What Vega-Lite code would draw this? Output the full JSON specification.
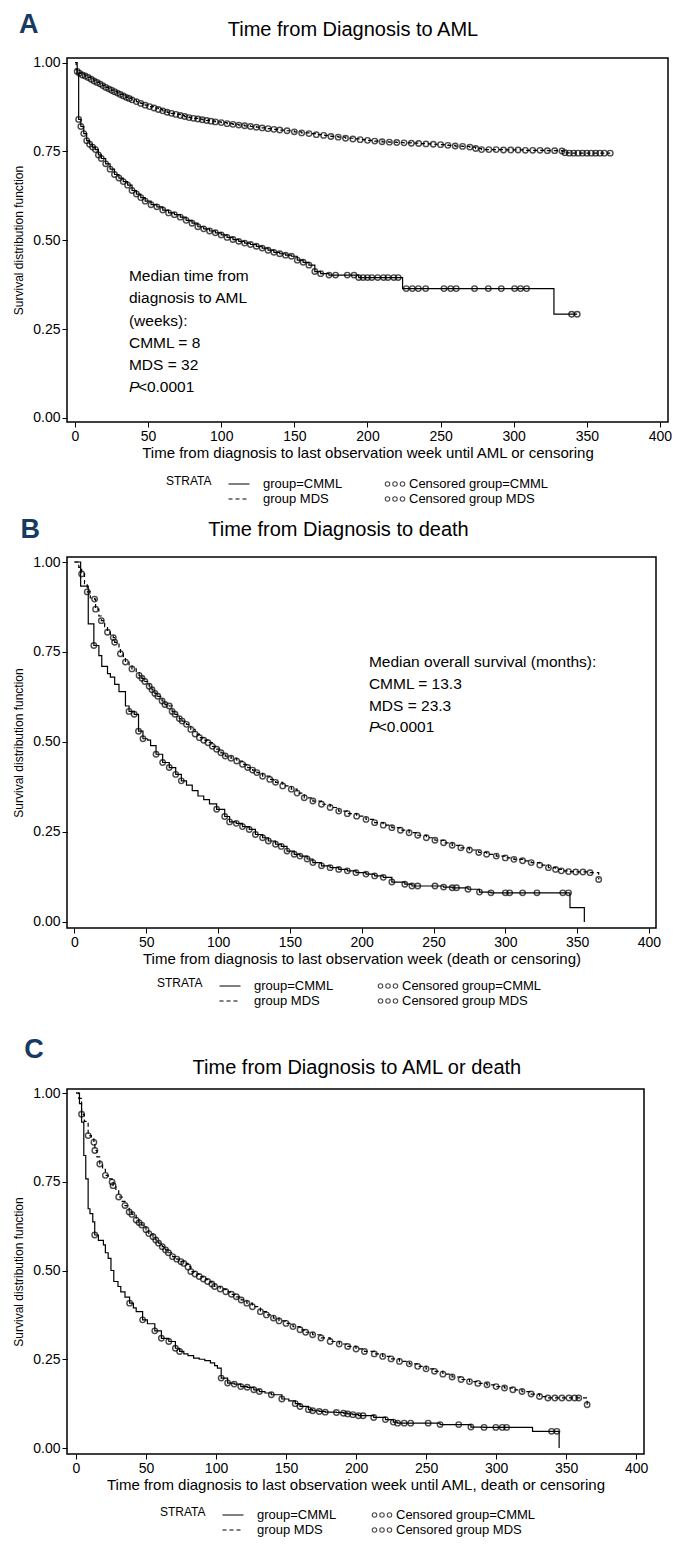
{
 "$schema": "https://vega.github.io/schema/vega-lite/v6.json",
 "background": "white",
 "padding": {"left": 12, "top": 10, "right": 5, "bottom": 5},
 "config": {
  "font": "Liberation Sans Narrow, Liberation Sans, sans-serif",
  "view": {"stroke": "black", "strokeWidth": 1.5},
  "axis": {"labelFont": "Liberation Sans Narrow, Liberation Sans, sans-serif", "labelFontSize": 14, "labelColor": "black", "titleFont": "Liberation Sans Narrow, Liberation Sans, sans-serif", "titleFontWeight": "normal", "titleColor": "black", "tickColor": "black", "tickSize": 5, "tickWidth": 1, "domain": false, "grid": false, "labelPadding": 2},
  "axisX": {"titleFontSize": 15, "titlePadding": 2, "labelFlush": false},
  "axisY": {"titleFontSize": 12, "titlePadding": 7, "labelFlush": false},
  "legend": {"labelFont": "Liberation Sans Narrow, Liberation Sans, sans-serif", "labelFontSize": 13, "titleFont": "Liberation Sans Narrow, Liberation Sans, sans-serif", "titleFontSize": 12, "titleFontWeight": "normal", "labelColor": "black", "titleColor": "black", "padding": 0, "rowPadding": 0},
  "text": {"color": "black"}
 },
 "datasets": {
  "A": [
   {"g":"CMML","t":0,"s":1,"c":0},{"g":"CMML","t":1.5,"s":0.97,"c":0},{"g":"CMML","t":2.5,"s":0.84,"c":1},{"g":"CMML","t":4,"s":0.82,"c":1},{"g":"CMML","t":6,"s":0.8,"c":1},{"g":"CMML","t":8,"s":0.78,"c":1},{"g":"CMML","t":10,"s":0.77,"c":1},{"g":"CMML","t":12,"s":0.762,"c":1},{"g":"CMML","t":14,"s":0.755,"c":1},{"g":"CMML","t":16,"s":0.74,"c":1},{"g":"CMML","t":18,"s":0.73,"c":1},{"g":"CMML","t":21,"s":0.715,"c":1},{"g":"CMML","t":24,"s":0.7,"c":1},{"g":"CMML","t":27,"s":0.685,"c":1},{"g":"CMML","t":30,"s":0.675,"c":1},{"g":"CMML","t":33,"s":0.665,"c":1},{"g":"CMML","t":36,"s":0.655,"c":1},{"g":"CMML","t":39,"s":0.64,"c":1},{"g":"CMML","t":42,"s":0.63,"c":1},{"g":"CMML","t":45,"s":0.62,"c":1},{"g":"CMML","t":48,"s":0.61,"c":1},{"g":"CMML","t":52,"s":0.6,"c":1},{"g":"CMML","t":56,"s":0.594,"c":1},{"g":"CMML","t":60,"s":0.585,"c":1},{"g":"CMML","t":64,"s":0.577,"c":1},{"g":"CMML","t":68,"s":0.572,"c":1},{"g":"CMML","t":72,"s":0.565,"c":1},{"g":"CMML","t":76,"s":0.556,"c":1},{"g":"CMML","t":80,"s":0.548,"c":1},{"g":"CMML","t":84,"s":0.538,"c":1},{"g":"CMML","t":88,"s":0.532,"c":1},{"g":"CMML","t":92,"s":0.526,"c":1},{"g":"CMML","t":96,"s":0.521,"c":1},{"g":"CMML","t":100,"s":0.515,"c":1},{"g":"CMML","t":104,"s":0.508,"c":1},{"g":"CMML","t":108,"s":0.502,"c":1},{"g":"CMML","t":112,"s":0.497,"c":1},{"g":"CMML","t":116,"s":0.492,"c":1},{"g":"CMML","t":120,"s":0.488,"c":1},{"g":"CMML","t":124,"s":0.483,"c":1},{"g":"CMML","t":128,"s":0.478,"c":1},{"g":"CMML","t":132,"s":0.472,"c":1},{"g":"CMML","t":136,"s":0.466,"c":1},{"g":"CMML","t":140,"s":0.462,"c":1},{"g":"CMML","t":144,"s":0.458,"c":1},{"g":"CMML","t":148,"s":0.455,"c":1},{"g":"CMML","t":152,"s":0.444,"c":1},{"g":"CMML","t":156,"s":0.438,"c":1},{"g":"CMML","t":160,"s":0.43,"c":1},{"g":"CMML","t":164,"s":0.412,"c":1},{"g":"CMML","t":168,"s":0.406,"c":1},{"g":"CMML","t":173.7,"s":0.402,"c":1},{"g":"CMML","t":178.2,"s":0.402,"c":1},{"g":"CMML","t":186.2,"s":0.402,"c":1},{"g":"CMML","t":190.8,"s":0.402,"c":1},{"g":"CMML","t":194,"s":0.395,"c":1},{"g":"CMML","t":197,"s":0.395,"c":1},{"g":"CMML","t":200,"s":0.395,"c":1},{"g":"CMML","t":203,"s":0.395,"c":1},{"g":"CMML","t":207,"s":0.395,"c":1},{"g":"CMML","t":211,"s":0.395,"c":1},{"g":"CMML","t":214,"s":0.395,"c":1},{"g":"CMML","t":218,"s":0.395,"c":1},{"g":"CMML","t":221,"s":0.395,"c":1},{"g":"CMML","t":224,"s":0.364,"c":0},{"g":"CMML","t":226.5,"s":0.364,"c":1},{"g":"CMML","t":230.7,"s":0.364,"c":1},{"g":"CMML","t":234.8,"s":0.364,"c":1},{"g":"CMML","t":239.8,"s":0.364,"c":1},{"g":"CMML","t":252.3,"s":0.364,"c":1},{"g":"CMML","t":256.9,"s":0.364,"c":1},{"g":"CMML","t":260.7,"s":0.364,"c":1},{"g":"CMML","t":273.2,"s":0.364,"c":1},{"g":"CMML","t":282.6,"s":0.364,"c":1},{"g":"CMML","t":291.5,"s":0.364,"c":1},{"g":"CMML","t":300.6,"s":0.364,"c":1},{"g":"CMML","t":304.7,"s":0.364,"c":1},{"g":"CMML","t":308.8,"s":0.364,"c":1},{"g":"CMML","t":327.5,"s":0.292,"c":0},{"g":"CMML","t":339.6,"s":0.292,"c":1},{"g":"CMML","t":343.4,"s":0.292,"c":1},
   {"g":"MDS","t":0,"s":1,"c":0},{"g":"MDS","t":0.8,"s":0.98,"c":0},{"g":"MDS","t":1.5,"s":0.975,"c":1},{"g":"MDS","t":3,"s":0.97,"c":1},{"g":"MDS","t":5,"s":0.965,"c":1},{"g":"MDS","t":7,"s":0.962,"c":1},{"g":"MDS","t":9,"s":0.958,"c":1},{"g":"MDS","t":11,"s":0.953,"c":1},{"g":"MDS","t":13,"s":0.948,"c":1},{"g":"MDS","t":15,"s":0.944,"c":1},{"g":"MDS","t":17,"s":0.94,"c":1},{"g":"MDS","t":19,"s":0.935,"c":1},{"g":"MDS","t":21,"s":0.93,"c":1},{"g":"MDS","t":23,"s":0.926,"c":1},{"g":"MDS","t":25,"s":0.922,"c":1},{"g":"MDS","t":27,"s":0.918,"c":1},{"g":"MDS","t":29,"s":0.914,"c":1},{"g":"MDS","t":31,"s":0.91,"c":1},{"g":"MDS","t":33,"s":0.906,"c":1},{"g":"MDS","t":35,"s":0.902,"c":1},{"g":"MDS","t":37,"s":0.899,"c":1},{"g":"MDS","t":39,"s":0.895,"c":1},{"g":"MDS","t":42,"s":0.89,"c":1},{"g":"MDS","t":45,"s":0.885,"c":1},{"g":"MDS","t":48,"s":0.88,"c":1},{"g":"MDS","t":51,"s":0.876,"c":1},{"g":"MDS","t":54,"s":0.872,"c":1},{"g":"MDS","t":57,"s":0.868,"c":1},{"g":"MDS","t":60,"s":0.864,"c":1},{"g":"MDS","t":63,"s":0.86,"c":1},{"g":"MDS","t":66,"s":0.857,"c":1},{"g":"MDS","t":69,"s":0.854,"c":1},{"g":"MDS","t":72,"s":0.851,"c":1},{"g":"MDS","t":75,"s":0.848,"c":1},{"g":"MDS","t":78,"s":0.845,"c":1},{"g":"MDS","t":81,"s":0.843,"c":1},{"g":"MDS","t":84,"s":0.841,"c":1},{"g":"MDS","t":87,"s":0.839,"c":1},{"g":"MDS","t":90,"s":0.837,"c":1},{"g":"MDS","t":93,"s":0.835,"c":1},{"g":"MDS","t":96,"s":0.833,"c":1},{"g":"MDS","t":100,"s":0.831,"c":1},{"g":"MDS","t":104,"s":0.828,"c":1},{"g":"MDS","t":108,"s":0.826,"c":1},{"g":"MDS","t":112,"s":0.824,"c":1},{"g":"MDS","t":116,"s":0.822,"c":1},{"g":"MDS","t":120,"s":0.82,"c":1},{"g":"MDS","t":124,"s":0.818,"c":1},{"g":"MDS","t":128,"s":0.816,"c":1},{"g":"MDS","t":132,"s":0.814,"c":1},{"g":"MDS","t":136,"s":0.812,"c":1},{"g":"MDS","t":140,"s":0.81,"c":1},{"g":"MDS","t":145,"s":0.808,"c":1},{"g":"MDS","t":150,"s":0.805,"c":1},{"g":"MDS","t":155,"s":0.802,"c":1},{"g":"MDS","t":160,"s":0.8,"c":1},{"g":"MDS","t":165,"s":0.797,"c":1},{"g":"MDS","t":170,"s":0.795,"c":1},{"g":"MDS","t":175,"s":0.792,"c":1},{"g":"MDS","t":180,"s":0.79,"c":1},{"g":"MDS","t":185,"s":0.787,"c":1},{"g":"MDS","t":190,"s":0.785,"c":1},{"g":"MDS","t":195,"s":0.783,"c":1},{"g":"MDS","t":200,"s":0.781,"c":1},{"g":"MDS","t":205,"s":0.779,"c":1},{"g":"MDS","t":210,"s":0.777,"c":1},{"g":"MDS","t":215,"s":0.776,"c":1},{"g":"MDS","t":220,"s":0.775,"c":1},{"g":"MDS","t":225,"s":0.774,"c":1},{"g":"MDS","t":230,"s":0.773,"c":1},{"g":"MDS","t":235,"s":0.772,"c":1},{"g":"MDS","t":240,"s":0.771,"c":1},{"g":"MDS","t":245,"s":0.77,"c":1},{"g":"MDS","t":250,"s":0.769,"c":1},{"g":"MDS","t":255,"s":0.767,"c":1},{"g":"MDS","t":260,"s":0.765,"c":1},{"g":"MDS","t":265,"s":0.764,"c":1},{"g":"MDS","t":270,"s":0.762,"c":1},{"g":"MDS","t":274,"s":0.758,"c":1},{"g":"MDS","t":278,"s":0.755,"c":1},{"g":"MDS","t":283,"s":0.755,"c":1},{"g":"MDS","t":288,"s":0.755,"c":1},{"g":"MDS","t":293,"s":0.754,"c":1},{"g":"MDS","t":298,"s":0.754,"c":1},{"g":"MDS","t":303,"s":0.754,"c":1},{"g":"MDS","t":308,"s":0.753,"c":1},{"g":"MDS","t":313,"s":0.753,"c":1},{"g":"MDS","t":318,"s":0.753,"c":1},{"g":"MDS","t":323,"s":0.752,"c":1},{"g":"MDS","t":328,"s":0.752,"c":1},{"g":"MDS","t":333,"s":0.751,"c":1},{"g":"MDS","t":335,"s":0.746,"c":1},{"g":"MDS","t":338,"s":0.745,"c":1},{"g":"MDS","t":341,"s":0.745,"c":1},{"g":"MDS","t":344,"s":0.745,"c":1},{"g":"MDS","t":347,"s":0.745,"c":1},{"g":"MDS","t":350,"s":0.745,"c":1},{"g":"MDS","t":353,"s":0.745,"c":1},{"g":"MDS","t":356,"s":0.745,"c":1},{"g":"MDS","t":359,"s":0.745,"c":1},{"g":"MDS","t":362,"s":0.745,"c":1},{"g":"MDS","t":366,"s":0.745,"c":1}
  ],
  "B": [
   {"g":"CMML","t":0,"s":1,"c":0},{"g":"CMML","t":4.3,"s":0.933,"c":0},{"g":"CMML","t":9.6,"s":0.828,"c":0},{"g":"CMML","t":13.5,"s":0.768,"c":1},{"g":"CMML","t":17,"s":0.74,"c":0},{"g":"CMML","t":19,"s":0.71,"c":0},{"g":"CMML","t":23,"s":0.69,"c":0},{"g":"CMML","t":25,"s":0.68,"c":0},{"g":"CMML","t":28,"s":0.66,"c":0},{"g":"CMML","t":31,"s":0.64,"c":0},{"g":"CMML","t":35.5,"s":0.6,"c":0},{"g":"CMML","t":38,"s":0.585,"c":1},{"g":"CMML","t":41.6,"s":0.577,"c":1},{"g":"CMML","t":44.6,"s":0.53,"c":1},{"g":"CMML","t":47.7,"s":0.509,"c":1},{"g":"CMML","t":51,"s":0.505,"c":0},{"g":"CMML","t":53,"s":0.49,"c":0},{"g":"CMML","t":56.8,"s":0.466,"c":1},{"g":"CMML","t":61.4,"s":0.443,"c":1},{"g":"CMML","t":66,"s":0.429,"c":1},{"g":"CMML","t":70.5,"s":0.41,"c":1},{"g":"CMML","t":74.4,"s":0.392,"c":1},{"g":"CMML","t":78,"s":0.38,"c":0},{"g":"CMML","t":82,"s":0.365,"c":0},{"g":"CMML","t":86,"s":0.35,"c":0},{"g":"CMML","t":90,"s":0.34,"c":0},{"g":"CMML","t":94,"s":0.328,"c":0},{"g":"CMML","t":99,"s":0.313,"c":1},{"g":"CMML","t":104.6,"s":0.293,"c":1},{"g":"CMML","t":108,"s":0.278,"c":1},{"g":"CMML","t":112.7,"s":0.274,"c":1},{"g":"CMML","t":117,"s":0.265,"c":1},{"g":"CMML","t":121.7,"s":0.257,"c":1},{"g":"CMML","t":126,"s":0.243,"c":1},{"g":"CMML","t":131,"s":0.234,"c":1},{"g":"CMML","t":135,"s":0.225,"c":1},{"g":"CMML","t":140,"s":0.216,"c":1},{"g":"CMML","t":144,"s":0.21,"c":1},{"g":"CMML","t":148,"s":0.197,"c":1},{"g":"CMML","t":153,"s":0.188,"c":1},{"g":"CMML","t":157,"s":0.183,"c":1},{"g":"CMML","t":162,"s":0.175,"c":1},{"g":"CMML","t":166,"s":0.165,"c":1},{"g":"CMML","t":172,"s":0.156,"c":1},{"g":"CMML","t":178,"s":0.151,"c":1},{"g":"CMML","t":184,"s":0.146,"c":1},{"g":"CMML","t":190,"s":0.142,"c":1},{"g":"CMML","t":196,"s":0.137,"c":1},{"g":"CMML","t":203,"s":0.133,"c":1},{"g":"CMML","t":209,"s":0.128,"c":1},{"g":"CMML","t":215,"s":0.124,"c":1},{"g":"CMML","t":221,"s":0.111,"c":1},{"g":"CMML","t":230,"s":0.105,"c":1},{"g":"CMML","t":235,"s":0.1,"c":1},{"g":"CMML","t":239,"s":0.1,"c":1},{"g":"CMML","t":251,"s":0.1,"c":1},{"g":"CMML","t":257,"s":0.097,"c":1},{"g":"CMML","t":263,"s":0.095,"c":1},{"g":"CMML","t":266,"s":0.095,"c":1},{"g":"CMML","t":274,"s":0.091,"c":1},{"g":"CMML","t":282,"s":0.083,"c":1},{"g":"CMML","t":290,"s":0.081,"c":1},{"g":"CMML","t":300,"s":0.081,"c":1},{"g":"CMML","t":303,"s":0.081,"c":1},{"g":"CMML","t":312,"s":0.081,"c":1},{"g":"CMML","t":322,"s":0.081,"c":1},{"g":"CMML","t":340,"s":0.081,"c":1},{"g":"CMML","t":344,"s":0.081,"c":1},{"g":"CMML","t":345,"s":0.04,"c":0},{"g":"CMML","t":355,"s":0,"c":0},
   {"g":"MDS","t":0,"s":1,"c":0},{"g":"MDS","t":3,"s":0.985,"c":0},{"g":"MDS","t":5,"s":0.967,"c":1},{"g":"MDS","t":7,"s":0.94,"c":0},{"g":"MDS","t":8.9,"s":0.917,"c":1},{"g":"MDS","t":11,"s":0.9,"c":0},{"g":"MDS","t":14,"s":0.897,"c":1},{"g":"MDS","t":14.7,"s":0.869,"c":1},{"g":"MDS","t":17,"s":0.85,"c":0},{"g":"MDS","t":18.7,"s":0.837,"c":1},{"g":"MDS","t":21,"s":0.82,"c":0},{"g":"MDS","t":23,"s":0.805,"c":1},{"g":"MDS","t":25,"s":0.795,"c":0},{"g":"MDS","t":27,"s":0.79,"c":1},{"g":"MDS","t":28,"s":0.777,"c":1},{"g":"MDS","t":31,"s":0.76,"c":0},{"g":"MDS","t":32,"s":0.745,"c":1},{"g":"MDS","t":34,"s":0.735,"c":0},{"g":"MDS","t":35.5,"s":0.722,"c":1},{"g":"MDS","t":38,"s":0.712,"c":0},{"g":"MDS","t":40,"s":0.703,"c":1},{"g":"MDS","t":43,"s":0.693,"c":0},{"g":"MDS","t":45,"s":0.685,"c":1},{"g":"MDS","t":47,"s":0.677,"c":1},{"g":"MDS","t":49,"s":0.668,"c":1},{"g":"MDS","t":52,"s":0.655,"c":1},{"g":"MDS","t":54,"s":0.645,"c":1},{"g":"MDS","t":56,"s":0.635,"c":1},{"g":"MDS","t":58,"s":0.627,"c":1},{"g":"MDS","t":61,"s":0.614,"c":1},{"g":"MDS","t":63,"s":0.604,"c":1},{"g":"MDS","t":66,"s":0.6,"c":1},{"g":"MDS","t":68,"s":0.585,"c":1},{"g":"MDS","t":70,"s":0.577,"c":1},{"g":"MDS","t":73,"s":0.565,"c":1},{"g":"MDS","t":75,"s":0.558,"c":1},{"g":"MDS","t":78,"s":0.549,"c":1},{"g":"MDS","t":81,"s":0.535,"c":1},{"g":"MDS","t":84,"s":0.522,"c":1},{"g":"MDS","t":87,"s":0.512,"c":1},{"g":"MDS","t":90,"s":0.505,"c":1},{"g":"MDS","t":93,"s":0.498,"c":1},{"g":"MDS","t":96,"s":0.488,"c":1},{"g":"MDS","t":99,"s":0.48,"c":1},{"g":"MDS","t":102,"s":0.47,"c":1},{"g":"MDS","t":105,"s":0.461,"c":1},{"g":"MDS","t":109,"s":0.455,"c":1},{"g":"MDS","t":113,"s":0.447,"c":1},{"g":"MDS","t":117,"s":0.438,"c":1},{"g":"MDS","t":120.6,"s":0.429,"c":1},{"g":"MDS","t":124,"s":0.422,"c":1},{"g":"MDS","t":127,"s":0.415,"c":1},{"g":"MDS","t":131,"s":0.405,"c":1},{"g":"MDS","t":136,"s":0.396,"c":1},{"g":"MDS","t":140,"s":0.388,"c":1},{"g":"MDS","t":145,"s":0.378,"c":1},{"g":"MDS","t":151,"s":0.369,"c":1},{"g":"MDS","t":155,"s":0.358,"c":1},{"g":"MDS","t":160,"s":0.345,"c":1},{"g":"MDS","t":166,"s":0.336,"c":1},{"g":"MDS","t":172,"s":0.327,"c":1},{"g":"MDS","t":178,"s":0.318,"c":1},{"g":"MDS","t":184,"s":0.308,"c":1},{"g":"MDS","t":190,"s":0.301,"c":1},{"g":"MDS","t":196.5,"s":0.294,"c":1},{"g":"MDS","t":203,"s":0.285,"c":1},{"g":"MDS","t":209,"s":0.276,"c":1},{"g":"MDS","t":215,"s":0.269,"c":1},{"g":"MDS","t":221,"s":0.262,"c":1},{"g":"MDS","t":227,"s":0.255,"c":1},{"g":"MDS","t":233,"s":0.248,"c":1},{"g":"MDS","t":239,"s":0.241,"c":1},{"g":"MDS","t":245,"s":0.234,"c":1},{"g":"MDS","t":251,"s":0.227,"c":1},{"g":"MDS","t":257,"s":0.22,"c":1},{"g":"MDS","t":263,"s":0.213,"c":1},{"g":"MDS","t":269,"s":0.206,"c":1},{"g":"MDS","t":275,"s":0.2,"c":1},{"g":"MDS","t":281.5,"s":0.193,"c":1},{"g":"MDS","t":287,"s":0.188,"c":1},{"g":"MDS","t":293.7,"s":0.183,"c":1},{"g":"MDS","t":300,"s":0.178,"c":1},{"g":"MDS","t":306,"s":0.174,"c":1},{"g":"MDS","t":312,"s":0.17,"c":1},{"g":"MDS","t":318,"s":0.165,"c":1},{"g":"MDS","t":324,"s":0.158,"c":1},{"g":"MDS","t":330,"s":0.151,"c":1},{"g":"MDS","t":335,"s":0.146,"c":1},{"g":"MDS","t":339,"s":0.142,"c":1},{"g":"MDS","t":344,"s":0.14,"c":1},{"g":"MDS","t":349,"s":0.139,"c":1},{"g":"MDS","t":354,"s":0.139,"c":1},{"g":"MDS","t":359,"s":0.137,"c":1},{"g":"MDS","t":365,"s":0.118,"c":1}
  ],
  "C": [
   {"g":"CMML","t":0,"s":1,"c":0},{"g":"CMML","t":2.5,"s":0.97,"c":0},{"g":"CMML","t":4,"s":0.918,"c":0},{"g":"CMML","t":5.6,"s":0.824,"c":0},{"g":"CMML","t":7,"s":0.758,"c":0},{"g":"CMML","t":8.7,"s":0.674,"c":0},{"g":"CMML","t":10,"s":0.66,"c":0},{"g":"CMML","t":12,"s":0.637,"c":0},{"g":"CMML","t":13.4,"s":0.6,"c":1},{"g":"CMML","t":16,"s":0.585,"c":0},{"g":"CMML","t":19.6,"s":0.572,"c":0},{"g":"CMML","t":21,"s":0.55,"c":0},{"g":"CMML","t":23,"s":0.534,"c":0},{"g":"CMML","t":25,"s":0.5,"c":0},{"g":"CMML","t":27,"s":0.469,"c":0},{"g":"CMML","t":30,"s":0.455,"c":0},{"g":"CMML","t":32,"s":0.44,"c":0},{"g":"CMML","t":35,"s":0.425,"c":0},{"g":"CMML","t":38.3,"s":0.408,"c":1},{"g":"CMML","t":41,"s":0.395,"c":0},{"g":"CMML","t":43,"s":0.384,"c":0},{"g":"CMML","t":47.6,"s":0.361,"c":1},{"g":"CMML","t":51,"s":0.35,"c":0},{"g":"CMML","t":56.3,"s":0.33,"c":1},{"g":"CMML","t":61,"s":0.309,"c":1},{"g":"CMML","t":66.3,"s":0.3,"c":1},{"g":"CMML","t":71,"s":0.281,"c":1},{"g":"CMML","t":74,"s":0.272,"c":1},{"g":"CMML","t":77,"s":0.265,"c":0},{"g":"CMML","t":80,"s":0.26,"c":0},{"g":"CMML","t":84,"s":0.253,"c":0},{"g":"CMML","t":88,"s":0.25,"c":0},{"g":"CMML","t":92,"s":0.246,"c":0},{"g":"CMML","t":96,"s":0.24,"c":0},{"g":"CMML","t":99,"s":0.232,"c":0},{"g":"CMML","t":101,"s":0.225,"c":0},{"g":"CMML","t":103.7,"s":0.197,"c":1},{"g":"CMML","t":108.3,"s":0.183,"c":1},{"g":"CMML","t":113,"s":0.18,"c":1},{"g":"CMML","t":117.7,"s":0.173,"c":1},{"g":"CMML","t":122.3,"s":0.171,"c":1},{"g":"CMML","t":127,"s":0.164,"c":1},{"g":"CMML","t":131,"s":0.159,"c":1},{"g":"CMML","t":135,"s":0.155,"c":0},{"g":"CMML","t":139.5,"s":0.15,"c":1},{"g":"CMML","t":147,"s":0.138,"c":1},{"g":"CMML","t":152,"s":0.133,"c":0},{"g":"CMML","t":156.6,"s":0.125,"c":1},{"g":"CMML","t":160,"s":0.117,"c":1},{"g":"CMML","t":166,"s":0.108,"c":1},{"g":"CMML","t":169,"s":0.105,"c":1},{"g":"CMML","t":173.7,"s":0.103,"c":1},{"g":"CMML","t":178,"s":0.101,"c":1},{"g":"CMML","t":186,"s":0.1,"c":1},{"g":"CMML","t":191,"s":0.098,"c":1},{"g":"CMML","t":194,"s":0.096,"c":1},{"g":"CMML","t":197.7,"s":0.094,"c":1},{"g":"CMML","t":201.7,"s":0.091,"c":1},{"g":"CMML","t":205,"s":0.091,"c":1},{"g":"CMML","t":212.6,"s":0.086,"c":1},{"g":"CMML","t":221,"s":0.08,"c":1},{"g":"CMML","t":226.6,"s":0.073,"c":1},{"g":"CMML","t":229.7,"s":0.07,"c":1},{"g":"CMML","t":234.4,"s":0.07,"c":1},{"g":"CMML","t":239,"s":0.07,"c":1},{"g":"CMML","t":251.5,"s":0.07,"c":1},{"g":"CMML","t":260,"s":0.066,"c":1},{"g":"CMML","t":273.3,"s":0.066,"c":1},{"g":"CMML","t":282,"s":0.059,"c":1},{"g":"CMML","t":291.4,"s":0.058,"c":1},{"g":"CMML","t":299.8,"s":0.058,"c":1},{"g":"CMML","t":304.4,"s":0.058,"c":1},{"g":"CMML","t":307.5,"s":0.058,"c":1},{"g":"CMML","t":326,"s":0.047,"c":0},{"g":"CMML","t":339.6,"s":0.047,"c":1},{"g":"CMML","t":343.4,"s":0.047,"c":1},{"g":"CMML","t":345,"s":0,"c":0},
   {"g":"MDS","t":0,"s":1,"c":0},{"g":"MDS","t":2,"s":0.985,"c":0},{"g":"MDS","t":4,"s":0.94,"c":1},{"g":"MDS","t":6,"s":0.92,"c":0},{"g":"MDS","t":8.7,"s":0.88,"c":1},{"g":"MDS","t":11,"s":0.87,"c":0},{"g":"MDS","t":12.8,"s":0.861,"c":1},{"g":"MDS","t":13.5,"s":0.838,"c":1},{"g":"MDS","t":15,"s":0.82,"c":0},{"g":"MDS","t":17,"s":0.8,"c":1},{"g":"MDS","t":19,"s":0.785,"c":0},{"g":"MDS","t":21,"s":0.768,"c":1},{"g":"MDS","t":23,"s":0.758,"c":0},{"g":"MDS","t":25.8,"s":0.749,"c":1},{"g":"MDS","t":26.5,"s":0.739,"c":1},{"g":"MDS","t":28.5,"s":0.725,"c":0},{"g":"MDS","t":30.5,"s":0.707,"c":1},{"g":"MDS","t":33,"s":0.695,"c":0},{"g":"MDS","t":35,"s":0.683,"c":1},{"g":"MDS","t":38,"s":0.665,"c":1},{"g":"MDS","t":40,"s":0.658,"c":1},{"g":"MDS","t":43,"s":0.642,"c":1},{"g":"MDS","t":45,"s":0.635,"c":1},{"g":"MDS","t":47,"s":0.628,"c":1},{"g":"MDS","t":50,"s":0.615,"c":1},{"g":"MDS","t":52,"s":0.604,"c":1},{"g":"MDS","t":55,"s":0.595,"c":1},{"g":"MDS","t":57,"s":0.586,"c":1},{"g":"MDS","t":59,"s":0.577,"c":1},{"g":"MDS","t":61.6,"s":0.567,"c":1},{"g":"MDS","t":64,"s":0.558,"c":1},{"g":"MDS","t":66,"s":0.55,"c":1},{"g":"MDS","t":69,"s":0.539,"c":1},{"g":"MDS","t":72,"s":0.532,"c":1},{"g":"MDS","t":75,"s":0.525,"c":1},{"g":"MDS","t":77,"s":0.52,"c":1},{"g":"MDS","t":80,"s":0.51,"c":1},{"g":"MDS","t":82,"s":0.497,"c":1},{"g":"MDS","t":85,"s":0.49,"c":1},{"g":"MDS","t":88,"s":0.483,"c":1},{"g":"MDS","t":91,"s":0.476,"c":1},{"g":"MDS","t":94,"s":0.469,"c":1},{"g":"MDS","t":97,"s":0.462,"c":1},{"g":"MDS","t":99,"s":0.455,"c":1},{"g":"MDS","t":103,"s":0.448,"c":1},{"g":"MDS","t":107,"s":0.44,"c":1},{"g":"MDS","t":111,"s":0.433,"c":1},{"g":"MDS","t":114.5,"s":0.426,"c":1},{"g":"MDS","t":118,"s":0.417,"c":1},{"g":"MDS","t":122,"s":0.408,"c":1},{"g":"MDS","t":126,"s":0.398,"c":1},{"g":"MDS","t":131.7,"s":0.384,"c":1},{"g":"MDS","t":136,"s":0.375,"c":1},{"g":"MDS","t":141,"s":0.366,"c":1},{"g":"MDS","t":145,"s":0.358,"c":1},{"g":"MDS","t":150,"s":0.351,"c":1},{"g":"MDS","t":155,"s":0.342,"c":1},{"g":"MDS","t":160,"s":0.333,"c":1},{"g":"MDS","t":164,"s":0.326,"c":1},{"g":"MDS","t":169,"s":0.319,"c":1},{"g":"MDS","t":175,"s":0.31,"c":1},{"g":"MDS","t":181.5,"s":0.3,"c":1},{"g":"MDS","t":188,"s":0.293,"c":1},{"g":"MDS","t":194,"s":0.286,"c":1},{"g":"MDS","t":200,"s":0.279,"c":1},{"g":"MDS","t":206,"s":0.272,"c":1},{"g":"MDS","t":213,"s":0.265,"c":1},{"g":"MDS","t":219,"s":0.258,"c":1},{"g":"MDS","t":225,"s":0.251,"c":1},{"g":"MDS","t":231,"s":0.244,"c":1},{"g":"MDS","t":238,"s":0.237,"c":1},{"g":"MDS","t":244,"s":0.23,"c":1},{"g":"MDS","t":250,"s":0.223,"c":1},{"g":"MDS","t":256,"s":0.216,"c":1},{"g":"MDS","t":262,"s":0.208,"c":1},{"g":"MDS","t":268.6,"s":0.2,"c":1},{"g":"MDS","t":275,"s":0.193,"c":1},{"g":"MDS","t":281,"s":0.187,"c":1},{"g":"MDS","t":287,"s":0.182,"c":1},{"g":"MDS","t":293.5,"s":0.178,"c":1},{"g":"MDS","t":300,"s":0.173,"c":1},{"g":"MDS","t":306,"s":0.169,"c":1},{"g":"MDS","t":312,"s":0.164,"c":1},{"g":"MDS","t":318.5,"s":0.159,"c":1},{"g":"MDS","t":325,"s":0.152,"c":1},{"g":"MDS","t":331,"s":0.145,"c":1},{"g":"MDS","t":337,"s":0.141,"c":1},{"g":"MDS","t":342,"s":0.141,"c":1},{"g":"MDS","t":347,"s":0.141,"c":1},{"g":"MDS","t":352,"s":0.141,"c":1},{"g":"MDS","t":356,"s":0.141,"c":1},{"g":"MDS","t":359,"s":0.141,"c":1},{"g":"MDS","t":365,"s":0.122,"c":1}
  ]
 },
 "resolve": {"scale": {"x": "independent", "y": "independent", "strokeDash": "independent", "stroke": "independent"}, "axis": {"x": "independent", "y": "independent"}, "legend": {"strokeDash": "independent", "stroke": "independent"}},
 "spacing": 26,
 "vconcat": [
  {
   "resolve": {"scale": {"x": "independent", "y": "independent", "strokeDash": "independent", "stroke": "independent"}, "axis": {"x": "independent", "y": "independent"}, "legend": {"strokeDash": "independent", "stroke": "independent"}},
   "spacing": 8,
   "vconcat": [
    {
     "width": 601, "height": 364,
     "layer": [
      {"data": {"name": "A"}, "mark": {"type": "line", "interpolate": "step-after", "color": "black", "strokeWidth": 1.2},
       "encoding": {
        "x": {"field": "t", "type": "quantitative", "scale": {"domain": [-5.47, 405.5], "nice": false, "zero": false}, "axis": {"values": [0,50,100,150,200,250,300,350,400], "title": "Time from diagnosis to last observation week until AML or censoring"}},
        "y": {"field": "s", "type": "quantitative", "scale": {"domain": [-0.0113, 1.0127], "nice": false, "zero": false}, "axis": {"values": [0,0.25,0.5,0.75,1], "format": ".2f", "title": "Survival distribution function"}},
        "strokeDash": {"field": "g", "type": "nominal", "sort": ["CMML", "MDS"], "scale": {"range": [[1,0],[4,3]]},
         "legend": {"title": "STRATA", "orient": "none", "legendX": 99, "legendY": 418, "direction": "vertical", "titleOrient": "left", "titleAnchor": "start", "titlePadding": 19, "titleBaseline": "top", "labelExpr": "datum.label == 'CMML' ? 'group=CMML' : 'group MDS'", "symbolType": "M-1.5,0L1.5,0", "symbolSize": 196, "symbolStrokeWidth": 1.2, "symbolStrokeColor": "black", "labelOffset": 16}}
       }},
      {"data": {"name": "A"}, "transform": [{"filter": "datum.c == 1"}], "mark": {"type": "point", "shape": "circle", "filled": false, "size": 30, "strokeWidth": 1.4},
       "encoding": {
        "x": {"field": "t", "type": "quantitative"},
        "y": {"field": "s", "type": "quantitative"},
        "stroke": {"field": "g", "type": "nominal", "scale": {"domain": ["CMML", "MDS"], "range": ["black", "black"]},
         "legend": {"title": null, "orient": "none", "legendX": 320, "legendY": 418, "direction": "vertical", "labelExpr": "datum.label == 'CMML' ? 'Censored group=CMML' : 'Censored group MDS'", "symbolType": "M-0.75,0A0.32,0.32,0,1,1,-1.39,0A0.32,0.32,0,1,1,-0.75,0ZM0.32,0A0.32,0.32,0,1,1,-0.32,0A0.32,0.32,0,1,1,0.32,0ZM1.39,0A0.32,0.32,0,1,1,0.75,0A0.32,0.32,0,1,1,1.39,0Z", "symbolSize": 196, "symbolStrokeWidth": 1.1, "symbolFillColor": "transparent", "labelOffset": 6}}
       }},
      {"data": {"values": [{}]}, "mark": {"type": "text", "text": "A", "fontSize": 27, "fontWeight": "bold", "color": "#163a63", "align": "left", "baseline": "alphabetic"}, "encoding": {"x": {"datum": -38.3}, "y": {"datum": 1.083}}},
      {"data": {"values": [{}]}, "mark": {"type": "text", "text": "Time from Diagnosis to AML", "fontSize": 20, "align": "center", "baseline": "alphabetic"}, "encoding": {"x": {"datum": 190.1}, "y": {"datum": 1.0745}}},
      {"data": {"values": [{}]}, "mark": {"type": "text", "text": ["Median time from", "diagnosis to AML", "(weeks):", "CMML = 8", "MDS = 32"], "fontSize": 15.5, "lineHeight": 22.3, "align": "left", "baseline": "alphabetic"}, "encoding": {"x": {"datum": 36.9}, "y": {"datum": 0.385}}},
      {"data": {"values": [{}]}, "mark": {"type": "text", "text": "P", "fontSize": 15.5, "fontStyle": "italic", "align": "left", "baseline": "alphabetic"}, "encoding": {"x": {"datum": 36.9}, "y": {"datum": 0.073}}},
      {"data": {"values": [{}]}, "mark": {"type": "text", "text": "<0.0001", "fontSize": 15.5, "align": "left", "baseline": "alphabetic"}, "encoding": {"x": {"datum": 43}, "y": {"datum": 0.073}}}
     ]
    },
    {
     "width": 589, "height": 371,
     "layer": [
      {"data": {"name": "B"}, "mark": {"type": "line", "interpolate": "step-after", "color": "black", "strokeWidth": 1.2},
       "encoding": {
        "x": {"field": "t", "type": "quantitative", "scale": {"domain": [-5.2, 404.9], "nice": false, "zero": false}, "axis": {"values": [0,50,100,150,200,250,300,350,400], "title": "Time from diagnosis to last observation week (death or censoring)"}},
        "y": {"field": "s", "type": "quantitative", "scale": {"domain": [-0.0167, 1.0139], "nice": false, "zero": false}, "axis": {"values": [0,0.25,0.5,0.75,1], "format": ".2f", "title": "Survival distribution function"}},
        "strokeDash": {"field": "g", "type": "nominal", "sort": ["CMML", "MDS"], "scale": {"range": [[1,0],[4,3]]},
         "legend": {"title": "STRATA", "orient": "none", "legendX": 90, "legendY": 421, "direction": "vertical", "titleOrient": "left", "titleAnchor": "start", "titlePadding": 19, "titleBaseline": "top", "labelExpr": "datum.label == 'CMML' ? 'group=CMML' : 'group MDS'", "symbolType": "M-1.5,0L1.5,0", "symbolSize": 196, "symbolStrokeWidth": 1.2, "symbolStrokeColor": "black", "labelOffset": 16}}
       }},
      {"data": {"name": "B"}, "transform": [{"filter": "datum.c == 1"}], "mark": {"type": "point", "shape": "circle", "filled": false, "size": 30, "strokeWidth": 1.4},
       "encoding": {
        "x": {"field": "t", "type": "quantitative"},
        "y": {"field": "s", "type": "quantitative"},
        "stroke": {"field": "g", "type": "nominal", "scale": {"domain": ["CMML", "MDS"], "range": ["black", "black"]},
         "legend": {"title": null, "orient": "none", "legendX": 313, "legendY": 421, "direction": "vertical", "labelExpr": "datum.label == 'CMML' ? 'Censored group=CMML' : 'Censored group MDS'", "symbolType": "M-0.75,0A0.32,0.32,0,1,1,-1.39,0A0.32,0.32,0,1,1,-0.75,0ZM0.32,0A0.32,0.32,0,1,1,-0.32,0A0.32,0.32,0,1,1,0.32,0ZM1.39,0A0.32,0.32,0,1,1,0.75,0A0.32,0.32,0,1,1,1.39,0Z", "symbolSize": 196, "symbolStrokeWidth": 1.1, "symbolFillColor": "transparent", "labelOffset": 6}}
       }},
      {"data": {"values": [{}]}, "mark": {"type": "text", "text": "B", "fontSize": 27, "fontWeight": "bold", "color": "#163a63", "align": "left", "baseline": "alphabetic"}, "encoding": {"x": {"datum": -37.5}, "y": {"datum": 1.066}}},
      {"data": {"values": [{}]}, "mark": {"type": "text", "text": "Time from Diagnosis to death", "fontSize": 20, "align": "center", "baseline": "alphabetic"}, "encoding": {"x": {"datum": 183.8}, "y": {"datum": 1.0722}}},
      {"data": {"values": [{}]}, "mark": {"type": "text", "text": ["Median overall survival (months):", "CMML = 13.3", "MDS = 23.3"], "fontSize": 15.5, "lineHeight": 21.7, "align": "left", "baseline": "alphabetic"}, "encoding": {"x": {"datum": 205}, "y": {"datum": 0.7075}}},
      {"data": {"values": [{}]}, "mark": {"type": "text", "text": "P", "fontSize": 15.5, "fontStyle": "italic", "align": "left", "baseline": "alphabetic"}, "encoding": {"x": {"datum": 205}, "y": {"datum": 0.527}}},
      {"data": {"values": [{}]}, "mark": {"type": "text", "text": "<0.0001", "fontSize": 15.5, "align": "left", "baseline": "alphabetic"}, "encoding": {"x": {"datum": 211.2}, "y": {"datum": 0.527}}}
     ]
    }
   ]
  },
  {
   "width": 577, "height": 365,
   "layer": [
    {"data": {"name": "C"}, "mark": {"type": "line", "interpolate": "step-after", "color": "black", "strokeWidth": 1.2},
     "encoding": {
      "x": {"field": "t", "type": "quantitative", "scale": {"domain": [-6.4, 405.6], "nice": false, "zero": false}, "axis": {"values": [0,50,100,150,200,250,300,350,400], "title": "Time from diagnosis to last observation week until AML, death or censoring"}},
      "y": {"field": "s", "type": "quantitative", "scale": {"domain": [-0.0169, 1.0113], "nice": false, "zero": false}, "axis": {"values": [0,0.25,0.5,0.75,1], "format": ".2f", "title": "Survival distribution function"}},
      "strokeDash": {"field": "g", "type": "nominal", "sort": ["CMML", "MDS"], "scale": {"range": [[1,0],[4,3]]},
       "legend": {"title": "STRATA", "orient": "none", "legendX": 93, "legendY": 418, "direction": "vertical", "titleOrient": "left", "titleAnchor": "start", "titlePadding": 19, "titleBaseline": "top", "labelExpr": "datum.label == 'CMML' ? 'group=CMML' : 'group MDS'", "symbolType": "M-1.5,0L1.5,0", "symbolSize": 196, "symbolStrokeWidth": 1.2, "symbolStrokeColor": "black", "labelOffset": 16}}
     }},
    {"data": {"name": "C"}, "transform": [{"filter": "datum.c == 1"}], "mark": {"type": "point", "shape": "circle", "filled": false, "size": 30, "strokeWidth": 1.4},
     "encoding": {
      "x": {"field": "t", "type": "quantitative"},
      "y": {"field": "s", "type": "quantitative"},
      "stroke": {"field": "g", "type": "nominal", "scale": {"domain": ["CMML", "MDS"], "range": ["black", "black"]},
       "legend": {"title": null, "orient": "none", "legendX": 307, "legendY": 418, "direction": "vertical", "labelExpr": "datum.label == 'CMML' ? 'Censored group=CMML' : 'Censored group MDS'", "symbolType": "M-0.75,0A0.32,0.32,0,1,1,-1.39,0A0.32,0.32,0,1,1,-0.75,0ZM0.32,0A0.32,0.32,0,1,1,-0.32,0A0.32,0.32,0,1,1,0.32,0ZM1.39,0A0.32,0.32,0,1,1,0.75,0A0.32,0.32,0,1,1,1.39,0Z", "symbolSize": 196, "symbolStrokeWidth": 1.1, "symbolFillColor": "transparent", "labelOffset": 6}}
     }},
    {"data": {"values": [{}]}, "mark": {"type": "text", "text": "C", "fontSize": 27, "fontWeight": "bold", "color": "#163a63", "align": "left", "baseline": "alphabetic"}, "encoding": {"x": {"datum": -37}, "y": {"datum": 1.099}}},
    {"data": {"values": [{}]}, "mark": {"type": "text", "text": "Time from Diagnosis to AML or death", "fontSize": 20, "align": "center", "baseline": "alphabetic"}, "encoding": {"x": {"datum": 200.6}, "y": {"datum": 1.0535}}}
   ]
  }
 ]
}
